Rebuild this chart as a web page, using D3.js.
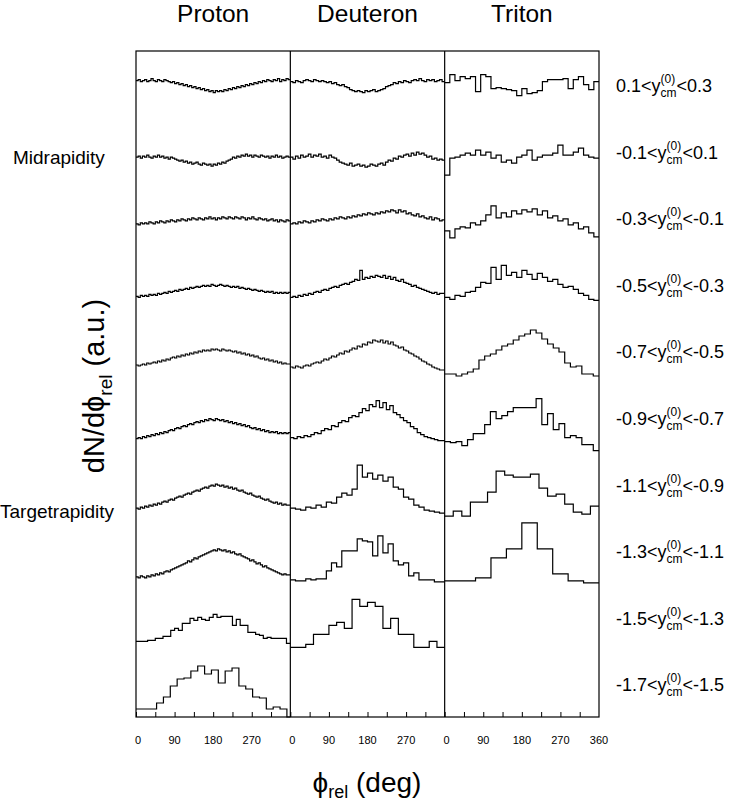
<!DOCTYPE html>
<html><head><meta charset="utf-8">
<script src="https://cdn.jsdelivr.net/npm/d3@7/dist/d3.min.js"></script>
<style>
body{margin:0;background:#fff}
svg{display:block}
text{font-family:"Liberation Sans",Arial,Helvetica,sans-serif;fill:#000}
</style></head>
<body><svg id="c" width="731" height="807"></svg>
<script>
// ---------------- data ----------------
const particles = ["Proton", "Deuteron", "Triton"];
const rapLow  = ["0.1", "-0.1", "-0.3", "-0.5", "-0.7", "-0.9", "-1.1", "-1.3", "-1.5", "-1.7"];
const rapHigh = ["0.3", "0.1", "-0.1", "-0.3", "-0.5", "-0.7", "-0.9", "-1.1", "-1.3", "-1.5"];
const tickValues = [0, 45, 90, 135, 180, 225, 270, 315];
const tickLabels = [0, 90, 180, 270];
const lastTickLabel = 360;
const regionLabels = ["Midrapidity", "Targetrapidity"];

// histogram contents (a.u.), one array per rapidity bin, bins cover 0..360 deg
const proton1 = [37,38,36,37,38,36,37,39,37,36,38,37,36,38,37,36,35,36,34,35,33,34,32,33,31,32,30,31,29,30,28,29,27,28,26,27,25,27,26,27,26,28,27,29,28,30,29,31,30,32,31,33,32,34,33,35,34,36,35,37,36,38,37,36,38,37,39,36,38,37,39,38];
const proton2 = [27,28,26,28,27,29,27,26,28,27,29,27,28,26,27,25,27,26,25,24,23,24,22,23,21,22,20,21,22,20,19,21,20,19,20,18,20,19,21,20,22,21,23,24,25,27,26,28,27,29,28,30,28,29,27,29,28,27,29,28,27,28,26,28,27,29,27,28,26,27,28,27];
const proton3 = [27,26,28,27,28,27,29,28,27,29,28,30,29,28,30,29,31,30,29,31,30,32,31,30,32,31,33,32,31,33,32,31,33,32,34,32,33,31,33,32,34,33,32,34,33,32,34,33,32,34,33,31,33,32,34,32,31,33,32,31,32,30,31,32,30,31,29,31,30,29,31,30];
const proton4 = [21,20,22,21,22,21,23,22,23,22,24,23,24,25,24,26,25,26,27,26,28,27,28,29,28,30,29,30,31,30,31,32,31,32,31,33,32,31,32,33,32,31,32,31,30,31,30,31,29,30,29,28,29,28,27,28,27,26,27,26,25,26,25,26,24,25,24,25,24,25,24,25];
const proton5 = [19,18,19,20,19,21,20,21,22,21,23,22,24,23,25,24,26,27,26,28,27,29,28,30,29,31,30,32,31,33,32,34,33,34,33,35,34,35,34,33,35,34,33,34,33,32,33,31,32,30,31,29,30,28,29,27,28,26,25,26,24,25,23,24,22,23,21,22,20,21,20,20];
const proton6 = [12,13,12,14,13,15,14,16,15,17,16,18,17,19,18,20,21,20,22,23,22,24,25,24,26,27,26,28,29,28,30,29,31,30,32,31,30,32,31,30,31,29,30,28,29,27,28,26,27,25,26,24,25,23,22,23,21,22,20,21,19,20,18,19,18,19,17,18,17,18,17,18];
const proton7 = [9,8,10,9,11,10,12,11,13,12,14,13,15,16,15,17,18,17,19,20,21,20,22,23,24,23,25,26,27,26,28,29,30,29,31,32,31,33,32,31,32,30,31,29,30,28,29,27,26,27,25,24,23,24,22,21,20,21,19,18,17,18,16,15,14,15,13,14,12,13,12,12];
const proton8 = [7,6,8,7,6,8,7,9,8,10,9,11,10,12,13,12,14,15,16,17,18,19,20,21,23,22,24,26,25,27,28,29,30,31,32,33,34,33,35,34,33,34,32,33,31,32,30,29,30,28,27,26,25,23,24,22,20,21,19,17,18,16,15,14,13,12,11,10,9,10,9,9];
const proton9 = [9,9,9,10,10,12,12,14,14,20,22,20,27,27,32,30,33,31,30,33,36,33,34,34,34,25,31,25,25,18,18,16,15,12,13,12,12,12,12,7];
const proton10 = [8,8,8,14,20,31,38,39,46,51,43,47,34,46,49,31,28,20,19,8,10,8,0];

const deuteron1 = [36,35,37,36,35,37,38,37,36,38,37,36,37,36,35,36,34,35,33,32,33,31,30,28,27,26,27,26,25,27,26,27,28,26,27,28,29,31,32,33,35,34,36,35,37,36,35,37,38,37,39,37,36,38,37,38,36,37,38,36];
const deuteron2 = [27,25,28,26,29,27,28,30,27,29,28,30,27,28,26,29,27,26,24,22,21,20,19,21,18,19,20,18,19,17,18,20,19,18,20,21,19,22,24,23,26,25,28,27,29,30,28,31,29,32,30,31,29,27,28,25,26,24,25,24];
const deuteron3 = [27,28,27,29,28,30,29,28,30,29,31,30,32,31,30,32,31,33,32,34,33,32,34,33,35,34,36,35,37,36,38,37,36,38,37,39,38,40,39,41,40,38,41,39,40,37,38,36,35,37,34,35,33,32,34,31,33,32,30,31];
const deuteron4 = [20,21,20,22,21,23,22,24,23,25,26,25,27,28,27,29,30,31,30,32,33,34,33,35,36,38,37,47,38,40,39,41,40,42,41,40,42,39,41,38,40,37,36,38,35,34,33,31,32,30,29,28,27,26,25,24,25,23,24,24];
const deuteron5 = [17,16,18,17,16,18,19,18,20,21,22,21,23,25,24,26,28,27,29,31,30,33,32,34,36,35,38,37,40,39,42,41,44,43,42,44,41,43,40,42,39,38,36,37,34,33,31,30,28,27,25,23,22,20,19,17,16,15,14,14];
const deuteron6 = [13,12,14,13,15,14,16,18,17,20,22,21,25,24,28,30,29,33,35,34,38,42,40,46,44,50,43,48,41,45,38,36,33,30,28,24,22,18,16,14,13,12,11,10,10];
const deuteron7 = [9,8,7,10,9,12,10,15,14,20,24,22,28,52,40,44,38,42,36,40,30,28,20,18,12,10,7,6,5,4];
const deuteron8 = [4,3,3,5,4,5,5,13,21,17,33,33,33,45,43,42,28,48,31,40,23,19,21,8,11,4,4,4,2,2];
const deuteron9 = [3,3,6,16,16,25,28,22,51,44,48,44,22,32,16,16,3,3,9,3];

const triton1 = [35,43,37,41,39,41,26,43,41,29,30,29,28,27,22,29,24,25,27,36,38,38,38,39,29,38,41,33,28,36];
const triton2 = [9,26,27,29,31,29,34,29,32,26,29,22,24,21,27,29,34,24,27,29,29,31,39,29,29,32,36,29,27,26];
const triton3 = [20,13,22,24,23,28,26,30,36,45,33,38,34,40,37,41,39,42,36,40,33,35,30,32,26,28,22,24,18,14];
const triton4 = [20,18,22,21,25,26,30,35,34,50,38,52,42,45,40,47,43,38,44,40,36,38,33,30,31,28,24,22,18,17];
const triton5 = [10,10,8,10,12,15,24,28,30,34,38,40,44,48,50,54,51,45,40,36,32,21,17,18,10,10,8];
const triton6 = [9,8,9,5,11,17,17,26,39,32,35,39,43,43,43,43,52,26,37,21,27,13,15,13,6,6,0];
const triton7 = [1,6,1,15,15,25,46,42,40,40,43,29,21,23,13,5,3,11];
const triton8 = [3,3,6,26,35,61,35,10,3,1];

const protonHists   = [proton1, proton2, proton3, proton4, proton5, proton6, proton7, proton8, proton9, proton10];
const deuteronHists = [deuteron1, deuteron2, deuteron3, deuteron4, deuteron5, deuteron6, deuteron7, deuteron8, deuteron9];
const tritonHists   = [triton1, triton2, triton3, triton4, triton5, triton6, triton7, triton8];
const binWidthOverride = {"0-9": 16}; // proton lowest bin uses 16 deg bins

// ---------------- layout ----------------
const svg = d3.select("#c");
const frameL = 136, frameR = 599, frameT = 51, frameB = 717;
const panelW = (frameR - frameL) / 3;

const panelX = d3.scaleBand().domain(particles).range([frameL, frameR]);
const rowY = d3.scaleBand().domain(d3.range(10)).range([frameT, frameB]);
const bh = rowY.bandwidth();
const vScale = d3.scaleLinear().domain([0, 66.6]).range([0, bh]);

const allHists = [protonHists, deuteronHists, tritonHists];

particles.forEach((p, pi) => {
  const x0 = panelX(p);
  const x = d3.scaleLinear().domain([0, 360]).range([x0, x0 + panelW]);
  const g = svg.append("g");
  allHists[pi].forEach((vals, ri) => {
    const bw = binWidthOverride[pi + "-" + ri] || 360 / vals.length;
    const base = rowY(ri) + bh;
    const pts = vals.map((v, k) => [x(Math.min(360, k * bw)), base - vScale(v)]);
    pts.push([x(360), base - vScale(vals[vals.length - 1])]);
    const line = d3.line().curve(d3.curveStepAfter);
    g.append("path").attr("d", line(pts))
      .attr("fill", "none").attr("stroke", "#000").attr("stroke-width", 1.2);
  });
  // bottom ticks
  const axis = d3.axisBottom(x).tickValues(tickValues).tickSize(-5).tickFormat("");
  const ag = svg.append("g").attr("transform", `translate(0,${frameB})`).call(axis);
  ag.select(".domain").remove();
  ag.selectAll("line").attr("stroke", "#000").attr("stroke-width", 1);
  const labs = pi === 2 ? tickLabels.concat([lastTickLabel]) : tickLabels;
  svg.append("g").selectAll("text").data(labs).join("text")
    .attr("x", d => x(d) + (d === 0 ? 2 : 0)).attr("y", 744)
    .attr("text-anchor", "middle").attr("font-size", 11).text(d => d);
  // title
  svg.append("text").attr("x", x(180)).attr("y", 22).attr("text-anchor", "middle")
    .attr("font-size", 24.5).text(p);
});

// frame
svg.append("rect").attr("x", frameL).attr("y", frameT).attr("width", frameR - frameL)
  .attr("height", frameB - frameT).attr("fill", "none").attr("stroke", "#000").attr("stroke-width", 1.2);
particles.slice(1).forEach(p => {
  svg.append("line").attr("x1", panelX(p)).attr("x2", panelX(p)).attr("y1", frameT).attr("y2", frameB)
    .attr("stroke", "#000").attr("stroke-width", 1.2);
});

// right rapidity labels
rapLow.forEach((lo, i) => {
  const yb = rowY(i) + 41;
  const gx = 616;
  const t1 = svg.append("text").attr("x", gx).attr("y", yb).attr("font-size", 18).text(lo + "<y");
  const w1 = t1.node().getComputedTextLength();
  const s1 = svg.append("text").attr("x", gx + w1).attr("y", yb - 9).attr("font-size", 12).text("(0)");
  const s2 = svg.append("text").attr("x", gx + w1).attr("y", yb + 5).attr("font-size", 12).text("cm");
  const w2 = Math.max(s1.node().getComputedTextLength(), s2.node().getComputedTextLength());
  svg.append("text").attr("x", gx + w1 + w2).attr("y", yb).attr("font-size", 18).text("<" + rapHigh[i]);
});

// left region labels
svg.append("text").attr("x", 13).attr("y", 164).attr("font-size", 19).text(regionLabels[0]);
svg.append("text").attr("x", 0).attr("y", 518).attr("font-size", 19).text(regionLabels[1]);

// y-axis title
const yt = svg.append("text").attr("transform", "translate(104,386) rotate(-90)")
  .attr("text-anchor", "middle").attr("font-size", 29);
yt.append("tspan").text("dN/d\u03D5");
yt.append("tspan").attr("font-size", 19).attr("dy", 8).text("rel");
yt.append("tspan").attr("dy", -8).text(" (a.u.)");

// x-axis title
const xt = svg.append("text").attr("x", 367).attr("y", 792).attr("text-anchor", "middle").attr("font-size", 28);
xt.append("tspan").text("\u03D5");
xt.append("tspan").attr("font-size", 18).attr("dy", 6).text("rel");
xt.append("tspan").attr("dy", -6).text(" (deg)");
</script>
</body></html>
